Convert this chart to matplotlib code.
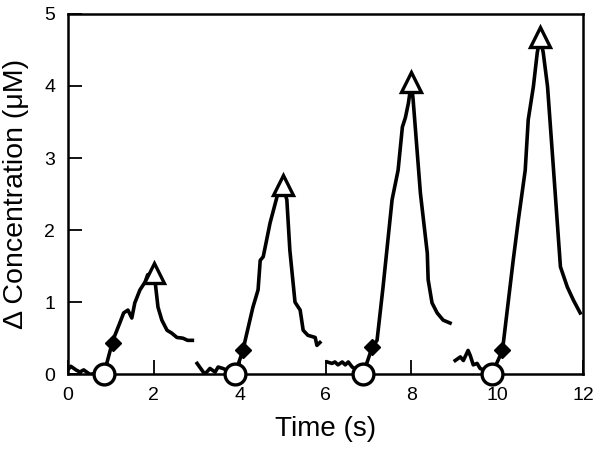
import matplotlib
matplotlib.use("Agg")
import matplotlib.pyplot as plt

plt.rcParams['font.family'] = ['Liberation Sans', 'DejaVu Sans']

# Trace segments (time s, delta concentration uM)
seg1_t = [0.0, 0.07, 0.19, 0.28, 0.37, 0.51, 0.68, 0.84, 1.05, 1.21, 1.30, 1.40, 1.49, 1.56, 1.68, 1.80, 1.86, 1.98,
          2.03, 2.10, 2.19, 2.31, 2.42, 2.54, 2.68, 2.79, 2.90]
seg1_c = [0.06, 0.11, 0.06, 0.03, 0.06, 0.0, 0.01, 0.0, 0.47, 0.71, 0.85, 0.89, 0.78, 0.99, 1.17, 1.28, 1.38, 1.40,
          1.30, 0.93, 0.75, 0.61, 0.57, 0.51, 0.50, 0.47, 0.47]

seg2_t = [3.01, 3.19, 3.31, 3.43, 3.50, 3.61, 3.89, 4.08, 4.13, 4.31, 4.43, 4.48, 4.55, 4.71, 4.87, 4.99,
          5.10, 5.17, 5.29, 5.41, 5.48, 5.59, 5.76, 5.80, 5.87]
seg2_c = [0.15, 0.0, 0.08, 0.03, 0.10, 0.08, 0.01, 0.33, 0.47, 0.93, 1.17, 1.58, 1.63, 2.10, 2.46, 2.65,
          2.42, 1.72, 1.00, 0.89, 0.61, 0.54, 0.51, 0.40, 0.44]

seg3_t = [6.04, 6.15, 6.22, 6.29, 6.39, 6.46, 6.53, 6.62, 6.88, 7.09, 7.20, 7.34, 7.55, 7.69, 7.79, 7.86, 7.93, 8.00,
          8.04, 8.21, 8.37, 8.39, 8.48, 8.60, 8.74, 8.90]
seg3_c = [0.17, 0.15, 0.17, 0.13, 0.17, 0.13, 0.17, 0.10, 0.01, 0.38, 0.47, 1.21, 2.42, 2.83, 3.43, 3.56, 3.76, 4.05,
          3.81, 2.51, 1.68, 1.31, 0.99, 0.85, 0.75, 0.71]

seg4_t = [9.02, 9.14, 9.21, 9.32, 9.37, 9.44, 9.53, 9.60, 9.88, 10.12, 10.14, 10.37, 10.49, 10.65, 10.72, 10.84, 10.93,
          11.00, 11.07, 11.17, 11.31, 11.47, 11.63, 11.77, 11.93]
seg4_c = [0.19, 0.24, 0.19, 0.33, 0.26, 0.13, 0.15, 0.08, 0.01, 0.33, 0.43, 1.58, 2.14, 2.83, 3.53, 3.99, 4.46,
          4.68, 4.46, 3.99, 2.83, 1.49, 1.21, 1.03, 0.85]

# Markers
circle_t = [0.84, 3.89, 6.88, 9.88]
circle_c = [0.0, 0.0, 0.0, 0.0]
diamond_t = [1.05, 4.08, 7.09, 10.12]
diamond_c = [0.44, 0.33, 0.38, 0.33]
tri_t = [2.0, 5.0, 8.0, 11.0]
tri_c = [1.40, 2.62, 4.05, 4.68]

xticks = [0, 2, 4, 6, 8, 10, 12]
yticks = [0, 1, 2, 3, 4, 5]

fig = plt.figure(figsize=(6.0, 4.62), dpi=100)
ax = fig.add_axes([0.113, 0.19, 0.859, 0.78])

for t, c in [(seg1_t, seg1_c), (seg2_t, seg2_c), (seg3_t, seg3_c), (seg4_t, seg4_c)]:
    ax.plot(t, c, color='black', lw=2.6, solid_joinstyle='round', zorder=2)

ax.plot(circle_t, circle_c, 'o', ms=15, mfc='white', mec='black', mew=2.4, clip_on=False, zorder=4)
ax.plot(diamond_t, diamond_c, 'D', ms=8.5, mfc='black', mec='black', mew=1.0, clip_on=False, zorder=4)
ax.plot(tri_t, tri_c, '^', ms=15, mfc='white', mec='black', mew=2.4, clip_on=False, zorder=4)

ax.set_xlim(0, 12)
ax.set_ylim(0, 5)
ax.set_xticks(xticks)
ax.set_yticks(yticks)
ax.tick_params(direction='in', length=10, width=1.3, labelsize=14, pad=9, top=False, right=False)
for s in ax.spines.values():
    s.set_linewidth(1.8)

ax.set_xlabel('Time (s)', fontsize=20, labelpad=9)
ax.set_ylabel('Δ Concentration (μM)', fontsize=20.5, labelpad=11)

fig.savefig('out.png', dpi=100)
